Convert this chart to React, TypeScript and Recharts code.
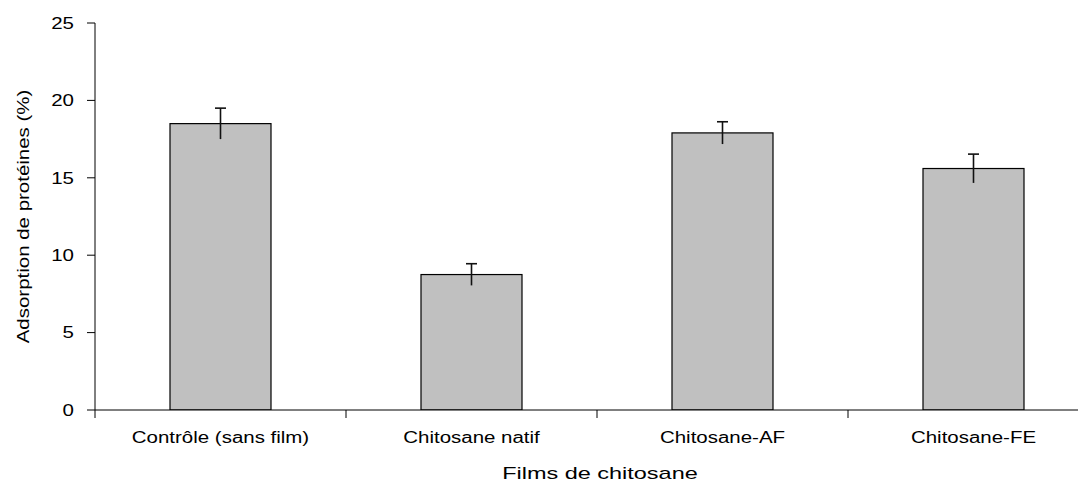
import React from 'react';
import { BarChart, Bar, XAxis, YAxis, Label } from 'recharts';

const categories = ['Contrôle (sans film)', 'Chitosane natif', 'Chitosane-AF', 'Chitosane-FE'];
const adsorption = [18.5, 8.75, 17.9, 15.6];
const errors = [1.0, 0.7, 0.72, 0.93];
const yTicks = [0, 5, 10, 15, 20, 25];
const yTitle = 'Adsorption de protéines (%)';
const xTitle = 'Films de chitosane';

const data = categories.map((c, i) => ({ name: c, value: adsorption[i], err: errors[i] }));

const FONT = '"Liberation Sans", Arial, Helvetica, sans-serif';
const SX = 1.28;
const CHART_W = 1091;
const CHART_H = 475;
const MARGIN = { top: 15, right: 0, bottom: 0, left: 0 };
const X_AXIS_H = 73;
const AXIS_Y = CHART_H - MARGIN.bottom - X_AXIS_H;

const YTick = (props: any) => {
  const { x, y, payload } = props;
  return (
    <g transform={`translate(${x},${y}) scale(${SX},1)`}>
      <text x={0} y={0} dy="0.36em" textAnchor="end" fontFamily={FONT} fontSize={16} fill="#000">
        {payload.value}
      </text>
    </g>
  );
};

const XTick = (props: any) => {
  const { x, payload } = props;
  const off = payload && typeof payload.offset === 'number' ? payload.offset : 0;
  return (
    <g>
      <line x1={x - off} x2={x - off} y1={AXIS_Y} y2={AXIS_Y + 8} stroke="#000" strokeWidth={1} />
      <g transform={`translate(${x},${AXIS_Y + 33}) scale(${SX},1)`}>
        <text x={0} y={0} textAnchor="middle" fontFamily={FONT} fontSize={16} fill="#000">
          {payload.value}
        </text>
      </g>
    </g>
  );
};

const YTitle = (props: any) => {
  const vb = props.viewBox || { x: 0, y: 15, width: 87, height: 387 };
  const cy = vb.y + vb.height / 2;
  return (
    <g transform={`translate(15,${cy}) rotate(-90) scale(${SX},1)`}>
      <text x={0} y={0} dy="0.35em" textAnchor="middle" fontFamily={FONT} fontSize={16} fill="#000">
        {yTitle}
      </text>
    </g>
  );
};

const XTitle = (props: any) => {
  const vb = props.viewBox || { x: 87, y: 402, width: 1004, height: 73 };
  const cx = vb.x + vb.width / 2 + 3;
  return (
    <g transform={`translate(${cx},${AXIS_Y + 69}) scale(1.38,1)`}>
      <text x={0} y={0} textAnchor="middle" fontFamily={FONT} fontSize={17} fill="#000">
        {xTitle}
      </text>
    </g>
  );
};

// Bar with an error whisker: only the upper cap is drawn, the lower half runs into the bar.
const BarWithError = (props: any) => {
  const { x, y, width, height, payload } = props;
  const v = payload.value;
  const pxPerUnit = v ? height / v : 0;
  const e = payload.err * pxPerUnit;
  const cx = x + width / 2;
  return (
    <g>
      <rect x={x} y={y} width={width} height={height} fill="#c0c0c0" stroke="#000" strokeWidth={1.2} />
      <line x1={cx} x2={cx} y1={y - e} y2={y + e} stroke="#111" strokeWidth={1.6} />
      <line x1={cx - 5.5} x2={cx + 5.5} y1={y - e} y2={y - e} stroke="#111" strokeWidth={1.6} />
    </g>
  );
};

export default function App() {
  return (
    <div style={{ width: 1078, height: 475, overflow: 'hidden', background: '#fff' }}>
      <BarChart width={CHART_W} height={CHART_H} data={data} margin={MARGIN}>
        <XAxis
          dataKey="name"
          height={X_AXIS_H}
          axisLine={{ stroke: '#000', strokeWidth: 1 }}
          tickLine={false}
          tickSize={8}
          tick={<XTick />}
          interval={0}
        >
          <Label content={<XTitle />} />
        </XAxis>
        <YAxis
          width={87}
          domain={[0, 25]}
          ticks={yTicks}
          type="number"
          allowDataOverflow
          axisLine={{ stroke: '#000', strokeWidth: 1 }}
          tickLine={{ stroke: '#000', strokeWidth: 1 }}
          tickSize={8}
          tickMargin={13}
          tick={<YTick />}
        >
          <Label content={<YTitle />} />
        </YAxis>
        <Bar dataKey="value" fill="#c0c0c0" barSize={101} isAnimationActive={false} shape={<BarWithError />} />
      </BarChart>
    </div>
  );
}
